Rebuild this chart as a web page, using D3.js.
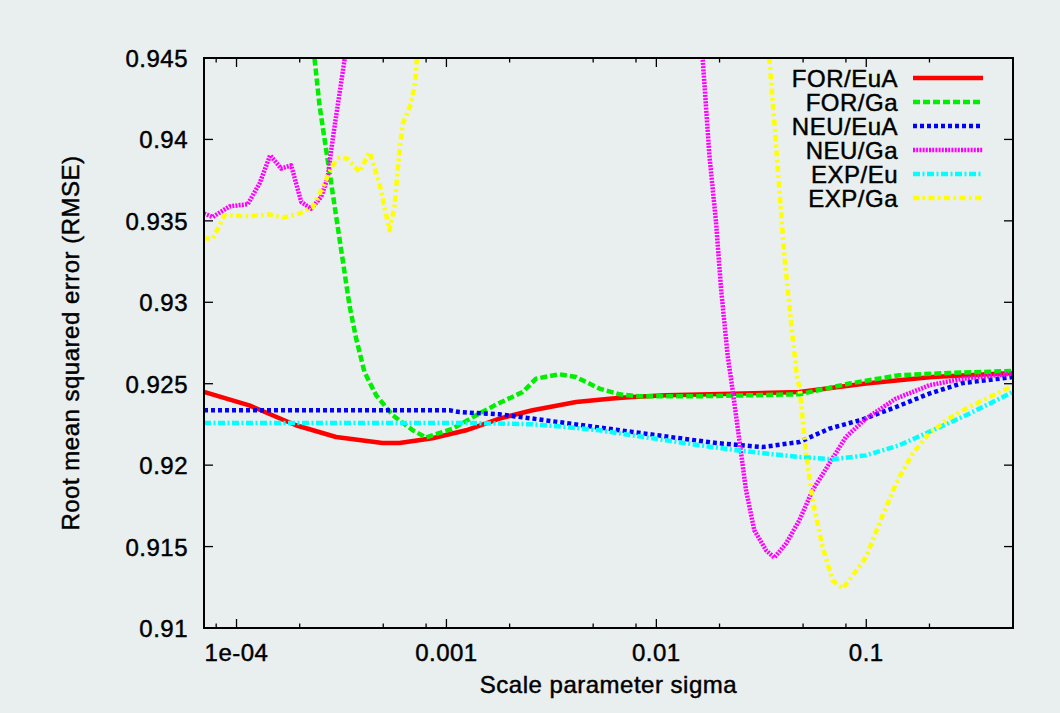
<!DOCTYPE html>
<html>
<head>
<meta charset="utf-8">
<script src="https://cdn.jsdelivr.net/npm/d3@7"></script>
<style>
  body { margin: 0; background: #e9eeee; }
  svg text { font-family: "Liberation Sans", Arial, Helvetica, sans-serif; fill: #000; stroke: #000; stroke-width: 0.45px; letter-spacing: 0.5px; }
</style>
</head>
<body>
<div id="chart"></div>
<script>
// values (sigma on log axis, RMSE on linear axis)
const forEuASigma = [7e-5, 1.15e-4, 1.92e-4, 2.98e-4, 4.96e-4, 5.97e-4, 8.58e-4, 1.24e-3, 1.79e-3, 2.57e-3, 4.15e-3, 6.17e-3, 7.69e-3, 1.11e-2, 2.30e-2, 4.80e-2, 9.97e-2, 0.206, 0.5];
const forEuARmse = [0.92449, 0.92367, 0.92245, 0.92173, 0.92136, 0.92136, 0.92165, 0.92214, 0.92286, 0.92337, 0.92388, 0.92409, 0.92418, 0.92429, 0.92439, 0.92449, 0.92501, 0.92541, 0.92566];

const forGaSigma = [2.18e-4, 2.353e-4, 2.485e-4, 2.624e-4, 2.773e-4, 2.929e-4, 3.094e-4, 3.268e-4, 3.452e-4, 3.715e-4, 4.069e-4, 4.626e-4, 5.551e-4, 6.91e-4, 8.0e-4, 1.072e-3, 1.385e-3, 1.788e-3, 2.309e-3, 2.674e-3, 3.452e-3, 4.147e-3, 5.354e-3, 6.665e-3, 8.299e-3, 1.603e-2, 4.797e-2, 8.299e-2, 0.1436, 0.2485, 0.5];
const forGaRmse = [0.948, 0.94496, 0.9421, 0.94005, 0.938, 0.93596, 0.93391, 0.93186, 0.92981, 0.92777, 0.92572, 0.92429, 0.92306, 0.92214, 0.9217, 0.92224, 0.92306, 0.92382, 0.92449, 0.92531, 0.92558, 0.92541, 0.9247, 0.92435, 0.92423, 0.92423, 0.92435, 0.92501, 0.92552, 0.92566, 0.92578];

const neuEuASigma = [7e-5, 2e-4, 5.97e-4, 1.033e-3, 1.153e-3, 1.788e-3, 2.568e-3, 4.444e-3, 7.686e-3, 1.33e-2, 1.924e-2, 3.197e-2, 4.797e-2, 6.665e-2, 9.57e-2, 0.1385, 0.1995, 0.2875, 0.5];
const neuEuARmse = [0.92337, 0.92337, 0.92337, 0.92337, 0.92326, 0.92312, 0.92286, 0.92245, 0.92204, 0.92163, 0.92136, 0.92111, 0.92142, 0.92224, 0.9228, 0.92357, 0.92439, 0.92504, 0.92541];

const neuGaSigma = [7e-5, 7.71e-5, 9.26e-5, 1.13e-4, 1.287e-4, 1.447e-4, 1.633e-4, 1.822e-4, 2.033e-4, 2.269e-4, 2.532e-4, 2.721e-4, 2.825e-4, 2.929e-4, 3.094e-4, 3.268e-4, 3.452e-4, 3e-3, 1.603e-2,
  1.662e-2, 1.789e-2, 1.924e-2, 2.033e-2, 2.185e-2, 2.309e-2, 2.485e-2, 2.674e-2, 2.929e-2, 3.331e-2, 3.647e-2, 4.147e-2, 4.797e-2, 5.551e-2, 6.665e-2, 8.0e-2, 9.97e-2, 0.1385, 0.1995, 0.2875, 0.5];
const neuGaRmse = [0.93545, 0.93524, 0.93589, 0.93602, 0.93729, 0.93903, 0.93821, 0.93841, 0.93616, 0.93575, 0.93647, 0.93769, 0.93933, 0.94076, 0.94281, 0.94486, 0.94701, 0.96, 0.94793,
  0.94496, 0.93903, 0.93493, 0.93084, 0.92675, 0.9246, 0.92153, 0.91846, 0.916, 0.91477, 0.91432, 0.91518, 0.91661, 0.91846, 0.9201, 0.92173, 0.92286, 0.92409, 0.9249, 0.92531, 0.92562];

const expEuSigma = [7e-5, 2e-4, 5.97e-4, 1.24e-3, 1.79e-3, 2.57e-3, 3.715e-3, 5.354e-3, 7.686e-3, 1.112e-2, 1.603e-2, 2.30e-2, 3.331e-2, 4.797e-2, 6.89e-2, 9.97e-2, 0.1436, 0.2069, 0.2984, 0.5];
const expEuRmse = [0.92259, 0.92259, 0.92259, 0.92259, 0.92255, 0.92251, 0.92234, 0.92214, 0.92183, 0.92153, 0.92122, 0.92095, 0.92071, 0.9205, 0.92036, 0.9206, 0.92122, 0.92214, 0.92306, 0.92449];

const expGaSigma = [7e-5, 7.71e-5, 8.77e-5, 1.153e-4, 1.436e-4, 1.662e-4, 1.995e-4, 2.309e-4, 2.576e-4, 2.875e-4, 3.094e-4, 3.388e-4, 3.852e-4, 4.298e-4, 4.797e-4, 5.354e-4, 5.655e-4, 5.974e-4, 6.194e-4, 6.79e-4, 7.12e-4, 7.22e-4, 7.315e-4, 5e-3, 3.341e-2,
  3.452e-2, 3.647e-2, 3.852e-2, 4.069e-2, 4.38e-2, 4.709e-2, 4.797e-2, 5.165e-2, 5.551e-2, 6.194e-2, 6.91e-2, 7.71e-2, 9.26e-2, 9.97e-2, 0.1153, 0.1385, 0.1662, 0.1995, 0.2396, 0.2984, 0.3452, 0.5];
const expGaRmse = [0.93391, 0.93391, 0.93534, 0.93528, 0.9354, 0.9352, 0.93545, 0.93585, 0.93708, 0.93841, 0.93888, 0.93882, 0.938, 0.93923, 0.93729, 0.93442, 0.93585, 0.93933, 0.94097, 0.9422, 0.94363, 0.94486, 0.94732, 0.97, 0.94762,
  0.94496, 0.94107, 0.93698, 0.93289, 0.92879, 0.92511, 0.9249, 0.92073, 0.91784, 0.91497, 0.91293, 0.91242, 0.91375, 0.91436, 0.91641, 0.91887, 0.92071, 0.92194, 0.92275, 0.92347, 0.92388, 0.92487];

const seriesNames = ["FOR/EuA", "FOR/Ga", "NEU/EuA", "NEU/Ga", "EXP/Eu", "EXP/Ga"];
const seriesColors = ["#ff0000", "#00ee00", "#0000ff", "#ff00ff", "#00ffff", "#ffff00"];
const seriesDashes = [null, "7,3", "4,3", "2,1.2", "7,2.5,2,2.5", "6,3.5,2.5,3.5"];
const seriesX = [forEuASigma, forGaSigma, neuEuASigma, neuGaSigma, expEuSigma, expGaSigma];
const seriesY = [forEuARmse, forGaRmse, neuEuARmse, neuGaRmse, expEuRmse, expGaRmse];

const xTicks = [1e-4, 1e-3, 1e-2, 1e-1];
const xTickLabels = ["1e-04", "0.001", "0.01", "0.1"];
const xMinorTicks = [8e-5, 2e-4, 5e-4, 8e-4, 2e-3, 5e-3, 8e-3, 2e-2, 5e-2, 8e-2, 0.2];
const yTicks = [0.91, 0.915, 0.92, 0.925, 0.93, 0.935, 0.94, 0.945];

const width = 1060, height = 713;
const margin = { top: 58, right: 47, bottom: 85, left: 204 };
const innerW = width - margin.left - margin.right;
const innerH = height - margin.top - margin.bottom;

const svg = d3.select("#chart").append("svg")
  .attr("width", width)
  .attr("height", height);

const g = svg.append("g")
  .attr("transform", `translate(${margin.left},${margin.top})`);

const x = d3.scaleLog().domain([7e-5, 0.5]).range([0, innerW]);
const y = d3.scaleLinear().domain([0.91, 0.945]).range([innerH, 0]);

g.append("clipPath").attr("id", "plot-clip")
  .append("rect").attr("width", innerW).attr("height", innerH);

// curves
const line = d3.line()
  .x((d) => x(d[0]))
  .y((d) => y(d[1]));

const plot = g.append("g").attr("clip-path", "url(#plot-clip)");
seriesNames.forEach((name, i) => {
  const pts = seriesX[i].map((s, j) => [s, seriesY[i][j]]);
  plot.append("path")
    .attr("d", line(pts))
    .attr("fill", "none")
    .attr("stroke", seriesColors[i])
    .attr("stroke-width", 4.5)
    .attr("stroke-dasharray", seriesDashes[i])
    .attr("stroke-linejoin", "round");
});

// ticks, all pointing inward on four sides
const tickG = g.append("g").attr("stroke", "#000").attr("stroke-width", 1.3);
xTicks.forEach((t) => {
  tickG.append("line").attr("x1", x(t)).attr("x2", x(t)).attr("y1", innerH).attr("y2", innerH - 9);
  tickG.append("line").attr("x1", x(t)).attr("x2", x(t)).attr("y1", 0).attr("y2", 9);
});
xMinorTicks.forEach((t) => {
  tickG.append("line").attr("x1", x(t)).attr("x2", x(t)).attr("y1", innerH).attr("y2", innerH - 4.5);
  tickG.append("line").attr("x1", x(t)).attr("x2", x(t)).attr("y1", 0).attr("y2", 4.5);
});
yTicks.forEach((t) => {
  tickG.append("line").attr("x1", 0).attr("x2", 9).attr("y1", y(t)).attr("y2", y(t));
  tickG.append("line").attr("x1", innerW).attr("x2", innerW - 9).attr("y1", y(t)).attr("y2", y(t));
});

g.append("rect")
  .attr("width", innerW).attr("height", innerH)
  .attr("fill", "none").attr("stroke", "#000").attr("stroke-width", 2);

// tick labels
g.selectAll(".ylab").data(yTicks).enter().append("text")
  .attr("x", -16)
  .attr("y", (d) => y(d) + 9)
  .attr("text-anchor", "end")
  .style("font-size", "24px")
  .text((d) => d3.format("")(d));

g.selectAll(".xlab").data(xTicks).enter().append("text")
  .attr("x", (d) => x(d))
  .attr("y", innerH + 33)
  .attr("text-anchor", "middle")
  .style("font-size", "24px")
  .text((d, i) => xTickLabels[i]);

// axis titles
svg.append("text")
  .attr("x", margin.left + innerW / 2)
  .attr("y", 693)
  .attr("text-anchor", "middle")
  .style("font-size", "24px")
  .text("Scale parameter sigma");

svg.append("text")
  .attr("transform", `translate(79, ${margin.top + innerH / 2}) rotate(-90)`)
  .attr("text-anchor", "middle")
  .style("font-size", "24px")
  .text("Root mean squared error (RMSE)");

// legend
const legend = svg.append("g");
seriesNames.forEach((name, i) => {
  const ly = 78 + i * 24;
  legend.append("text")
    .attr("x", 898).attr("y", ly + 8.5)
    .attr("text-anchor", "end")
    .style("font-size", "24px")
    .text(name);
  legend.append("line")
    .attr("x1", 913).attr("x2", 983)
    .attr("y1", ly).attr("y2", ly)
    .attr("stroke", seriesColors[i])
    .attr("stroke-width", 4.5)
    .attr("stroke-dasharray", seriesDashes[i]);
});
</script>
</body>
</html>
